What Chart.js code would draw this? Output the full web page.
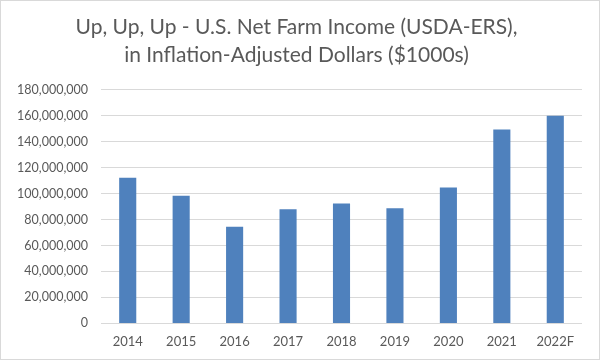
<!DOCTYPE html>
<html>
<head>
<meta charset="utf-8">
<script src="https://cdn.jsdelivr.net/npm/chart.js@4"></script>
<style>
  html, body { margin: 0; padding: 0; background: #fff; }
  #wrap { width: 600px; height: 360px; box-sizing: border-box; border: 1px solid #d9d9d9; position: relative; }
</style>
</head>
<body>
<div id="wrap"><canvas id="farmChart"></canvas></div>
<script>
const years = ['2014', '2015', '2016', '2017', '2018', '2019', '2020', '2021', '2022F'];
const netIncome = [112100000, 98300000, 74400000, 87900000, 92400000, 88700000, 104600000, 149400000, 160000000];
const yTicks = [0, 20000000, 40000000, 60000000, 80000000, 100000000, 120000000, 140000000, 160000000, 180000000];
const titleLines = ['Up, Up, Up - U.S. Net Farm Income (USDA-ERS),', 'in Inflation-Adjusted Dollars ($1000s)'];

const textGray = '#595959';
const gridGray = '#d9d9d9';

const ctx = document.getElementById('farmChart').getContext('2d');
window.myChart = new Chart(ctx, {
    type: 'bar',
    data: {
        labels: years,
        datasets: [{
            label: 'Net Farm Income',
            data: netIncome,
            backgroundColor: '#4f81bd',
            borderWidth: 0,
            categoryPercentage: 1,
            barPercentage: 0.32
        }]
    },
    options: {
        responsive: true,
        maintainAspectRatio: false,
        animation: false,
        layout: { padding: { left: 10, right: 17, top: 6, bottom: 6 } },
        plugins: {
            legend: { display: false },
            tooltip: { enabled: false },
            title: {
                display: true,
                text: titleLines,
                color: textGray,
                font: { family: 'Lato', size: 21, weight: 'normal', lineHeight: 1.35 },
                padding: { top: 6, bottom: 20 }
            }
        },
        scales: {
            x: {
                grid: { display: false },
                border: { display: false },
                ticks: {
                    color: textGray,
                    font: { family: 'Lato', size: 13 },
                    padding: 3,
                    maxRotation: 0
                }
            },
            y: {
                min: 0,
                max: 180000000,
                afterBuildTicks: (scale) => {
                    scale.ticks = yTicks.map(v => ({ value: v }));
                },
                afterFit: (scale) => {
                    scale.width = 90;
                },
                grid: { color: gridGray, lineWidth: 1, drawTicks: false },
                border: { display: false },
                ticks: {
                    color: textGray,
                    font: { family: 'Lato', size: 12.5 },
                    padding: 13,
                    callback: (v) => Number(v).toLocaleString('en-US')
                }
            }
        }
    }
});
</script>
</body>
</html>
